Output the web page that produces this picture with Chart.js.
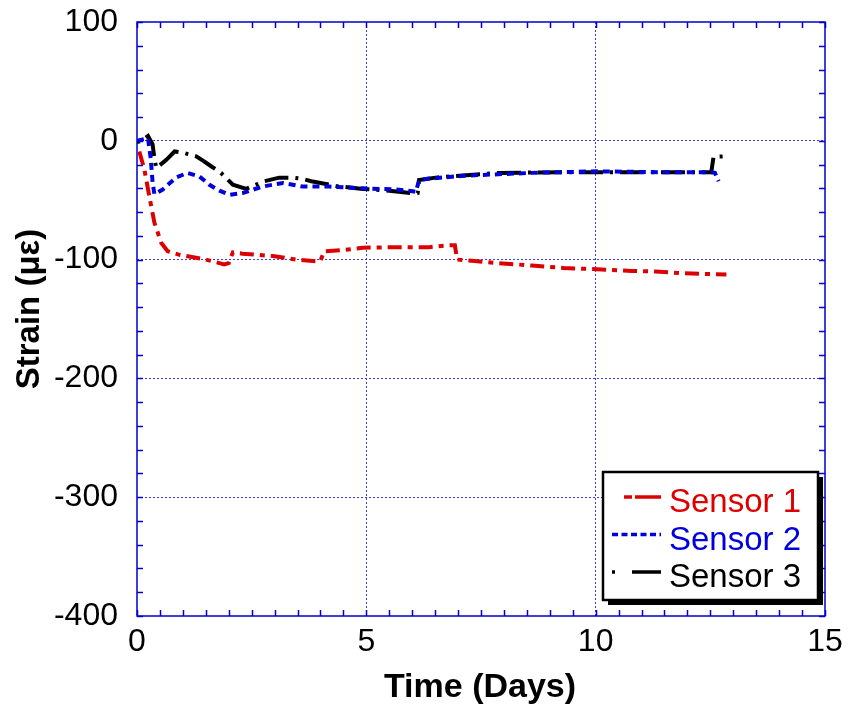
<!DOCTYPE html>
<html>
<head>
<meta charset="utf-8">
<script src="https://cdn.jsdelivr.net/npm/chart.js@4/dist/chart.umd.min.js"></script>
<style>
  html, body { margin: 0; padding: 0; background: #fff; }
  canvas { display: block; }
</style>
</head>
<body>
<canvas id="strainChart" width="849" height="711"></canvas>
<script>
// datos (dias, microdeformacion)
const s1Days = [0.05, 0.16, 0.27, 0.38, 0.53, 0.67, 0.93, 1.5, 1.9, 2.0, 2.09, 2.3, 2.96, 3.47, 3.9, 4.0, 4.08, 4.5, 4.92, 5.72, 6.37, 6.8, 6.93, 6.98, 7.3, 7.89, 8.61, 9.3, 9.92, 10.79, 11.3, 11.87, 12.85];
const s1Strain = [-9, -24, -47, -69, -86, -93, -96, -100, -104, -103, -94, -95, -97, -100, -101.5, -101, -93, -92, -90, -89.5, -89.5, -88, -88, -100, -101, -103, -105, -107, -108, -109.5, -110, -111.5, -112.5];

const s2Days = [0, 0.1, 0.24, 0.3, 0.34, 0.38, 0.56, 0.85, 1.1, 1.36, 1.58, 1.8, 2.02, 2.3, 2.74, 3.18, 3.61, 4.19, 4.92, 5.65, 6.01, 6.08, 6.15, 6.33, 7.17, 8.61, 10.06, 11.5, 12.52, 12.6, 12.68];
const s2Strain = [0, 1, 2, -15, -35, -45, -41, -31, -27, -30, -37, -42, -45.5, -44, -38.5, -35.5, -38.5, -38.5, -40, -41, -42.5, -43, -33, -32, -29.3, -27, -25.7, -26.5, -26.5, -27, -34];

const s3Days = [0, 0.1, 0.24, 0.34, 0.38, 0.42, 0.64, 0.82, 1.0, 1.29, 1.43, 1.6, 1.83, 2.09, 2.38, 2.78, 3.1, 3.39, 3.6, 3.8, 4.34, 4.92, 5.5, 6.08, 6.12, 6.15, 6.51, 7.89, 9.34, 10.79, 12.23, 12.52, 12.57, 12.85];
const s3Strain = [-1, 0, 4, -3, -15, -23, -16, -9, -10, -13, -16.5, -21, -27, -37, -40.5, -34, -31, -31, -32, -34, -38, -40.5, -42, -44.5, -44, -33, -31, -27, -26.5, -26.5, -26.5, -26.5, -13.5, -13];

const seriesNames = ['Sensor 1', 'Sensor 2', 'Sensor 3'];
const xMajor = [0, 5, 10, 15];
const yMajor = [100, 0, -100, -200, -300, -400];

const FONT = "'Liberation Sans', Arial, sans-serif";
const AXIS_BLUE = '#0000cc';
const GRID_BLUE = '#3b3bd6';

const toPoints = (xs, ys) => xs.map((x, i) => ({ x: x, y: ys[i] }));
const isMajor = (v, list) => list.some(m => Math.abs(m - v) < 1e-6);

// ticks hacia adentro, borde completo, titulos y leyenda con sombra
const marcoPlugin = {
    id: 'marco',
    beforeDatasetsDraw(chart) {
        const { ctx, chartArea: a, scales } = chart;
        ctx.save();
        ctx.strokeStyle = AXIS_BLUE;
        ctx.lineWidth = 1.5;
        scales.x.ticks.forEach(t => {
            const px = Math.round(scales.x.getPixelForValue(t.value)) + 0.5;
            ctx.beginPath();
            ctx.moveTo(px, a.bottom); ctx.lineTo(px, a.bottom - 6);
            ctx.moveTo(px, a.top); ctx.lineTo(px, a.top + 6);
            ctx.stroke();
        });
        scales.y.ticks.forEach(t => {
            const py = Math.round(scales.y.getPixelForValue(t.value)) + 0.5;
            ctx.beginPath();
            ctx.moveTo(a.left, py); ctx.lineTo(a.left + 6, py);
            ctx.moveTo(a.right, py); ctx.lineTo(a.right - 6, py);
            ctx.stroke();
        });
        ctx.strokeRect(a.left, a.top, a.right - a.left, a.bottom - a.top);
        ctx.restore();
    },
    afterDraw(chart) {
        const { ctx } = chart;
        ctx.save();
        // titulos de ejes
        ctx.fillStyle = '#000';
        ctx.font = 'bold 34px ' + FONT;
        ctx.textAlign = 'center';
        ctx.textBaseline = 'middle';
        ctx.fillText('Time (Days)', 480, 688);
        ctx.font = 'bold 33px ' + FONT;
        ctx.translate(30, 309);
        ctx.rotate(-Math.PI / 2);
        ctx.fillText('Strain (\u03bc\u03b5)', 0, 0);
        ctx.restore();

        // leyenda
        const bx = 603, by = 472, bw = 215, bh = 128;
        ctx.save();
        ctx.fillStyle = '#000';
        ctx.fillRect(bx + 5, by + 5, bw, bh);
        ctx.fillStyle = '#fff';
        ctx.fillRect(bx, by, bw, bh);
        ctx.strokeStyle = '#000';
        ctx.lineWidth = 2.5;
        ctx.strokeRect(bx, by, bw, bh);
        ctx.font = '33px ' + FONT;
        ctx.textAlign = 'left';
        ctx.textBaseline = 'alphabetic';
        chart.data.datasets.forEach((ds, i) => {
            const ly = 497 + i * 37.5;
            ctx.strokeStyle = ds.borderColor;
            ctx.lineWidth = 3.5;
            ctx.setLineDash(ds.legendDash);
            ctx.beginPath();
            ctx.moveTo(ds.legendStart, ly);
            ctx.lineTo(661, ly);
            ctx.stroke();
            ctx.setLineDash([]);
            ctx.fillStyle = ds.borderColor;
            ctx.fillText(ds.label, 669, ly + 15);
        });
        ctx.restore();
    }
};

const serie = (label, xs, ys, color, dash, legendDash, legendStart) => ({
    label: label,
    data: toPoints(xs, ys),
    borderColor: color,
    borderWidth: 4,
    borderDash: dash,
    borderCapStyle: 'butt',
    legendDash: legendDash,
    legendStart: legendStart,
    showLine: true,
    pointRadius: 0,
    tension: 0,
    fill: false
});

new Chart(document.getElementById('strainChart'), {
    type: 'scatter',
    data: {
        datasets: [
            serie(seriesNames[0], s1Days, s1Strain, '#dd0000', [14, 6, 5, 6], [8, 3, 26, 0], 624),
            serie(seriesNames[1], s2Days, s2Strain, '#0000dd', [7, 5], [6, 3.5], 612),
            serie(seriesNames[2], s3Days, s3Strain, '#000000', [3, 7, 24, 7], [3, 17, 30, 0], 612)
        ]
    },
    options: {
        responsive: false,
        animation: false,
        layout: { padding: { left: 0, top: 22, right: 24, bottom: 0 } },
        plugins: {
            legend: { display: false },
            tooltip: { enabled: false }
        },
        scales: {
            x: {
                type: 'linear',
                min: 0,
                max: 15,
                afterFit: s => { s.height = 95; s.paddingLeft = 0; s.paddingRight = 0; },
                afterBuildTicks: s => {
                    s.ticks = [];
                    for (let i = 0; i <= 30; i++) s.ticks.push({ value: i * 0.5 });
                },
                border: { display: false, dash: [2, 2] },
                grid: {
                    drawTicks: false,
                    lineWidth: 1,
                    color: c => (c.tick && isMajor(c.tick.value, [5, 10])) ? GRID_BLUE : 'rgba(0,0,0,0)'
                },
                ticks: {
                    autoSkip: false,
                    maxRotation: 0,
                    padding: 7,
                    color: '#000',
                    font: { family: FONT, size: 32 },
                    callback: v => isMajor(v, xMajor) ? String(Math.round(v)) : ''
                }
            },
            y: {
                type: 'linear',
                min: -400,
                max: 100,
                afterFit: s => { s.width = 137; s.paddingTop = 0; s.paddingBottom = 0; },
                afterBuildTicks: s => {
                    s.ticks = [];
                    for (let v = -400; v <= 100; v += 20) s.ticks.push({ value: v });
                },
                border: { display: false, dash: [2, 2] },
                grid: {
                    drawTicks: false,
                    lineWidth: 1,
                    color: c => (c.tick && isMajor(c.tick.value, [0, -100, -200, -300])) ? GRID_BLUE : 'rgba(0,0,0,0)'
                },
                ticks: {
                    autoSkip: false,
                    padding: 19,
                    color: '#000',
                    font: { family: FONT, size: 32 },
                    callback: v => isMajor(v, yMajor) ? String(Math.round(v)) : ''
                }
            }
        }
    },
    plugins: [marcoPlugin]
});
</script>
</body>
</html>
